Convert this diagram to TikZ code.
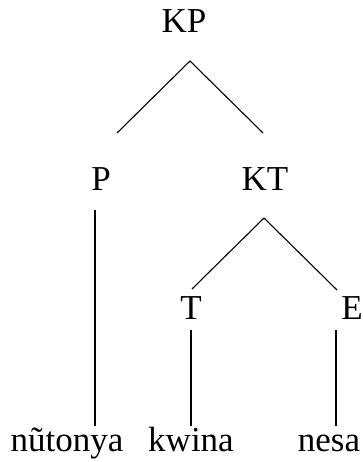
\documentclass[tikz,border=0pt]{standalone}
\usepackage{fontspec}
\setmainfont{Liberation Serif}

\begin{document}
\begin{tikzpicture}[x=1pt,y=-1pt]
        \useasboundingbox (0,0) rectangle (363,462);
        \tikzset{lbl/.style={anchor=base, inner sep=0pt, outer sep=0pt, font=\fontsize{35}{42}\selectfont}}

        % the labels of the tree
        \node[lbl] (KP) at (184,33) {KP};
        \node[lbl] (P) at (101,190) {P};
        \node[lbl] (KT) at (265,190) {KT};
        \node[lbl] (T) at (191,319) {T};
        \node[lbl] (E) at (352,319) {E};

        % the words at the bottom
        \node[lbl] (w1) at (67,451) {nũtonya};
        \node[lbl] (w2) at (191,451) {kwina};
        \node[lbl] (w3) at (329,451) {nesa};

        % draw the branches
        \draw[line width=1.1pt] ([shift={(6,28)}]KP.base) -- ([shift={(16,-57)}]P.base);
        \draw[line width=1.1pt] ([shift={(6,28)}]KP.base) -- ([shift={(-2,-57)}]KT.base);
        \draw[line width=1.1pt] ([shift={(-6,20)}]P.base) -- ([shift={(28,-25)}]w1.base);
        \draw[line width=1.1pt] ([shift={(-1,28)}]KT.base) -- ([shift={(1,-30)}]T.base);
        \draw[line width=1.1pt] ([shift={(-1,28)}]KT.base) -- ([shift={(-15,-29)}]E.base);
        \draw[line width=1.1pt] ([shift={(0,11)}]T.base) -- ([shift={(0,-25)}]w2.base);
        \draw[line width=1.1pt] ([shift={(-16,11)}]E.base) -- ([shift={(7,-25)}]w3.base);

\end{tikzpicture}
\end{document}
